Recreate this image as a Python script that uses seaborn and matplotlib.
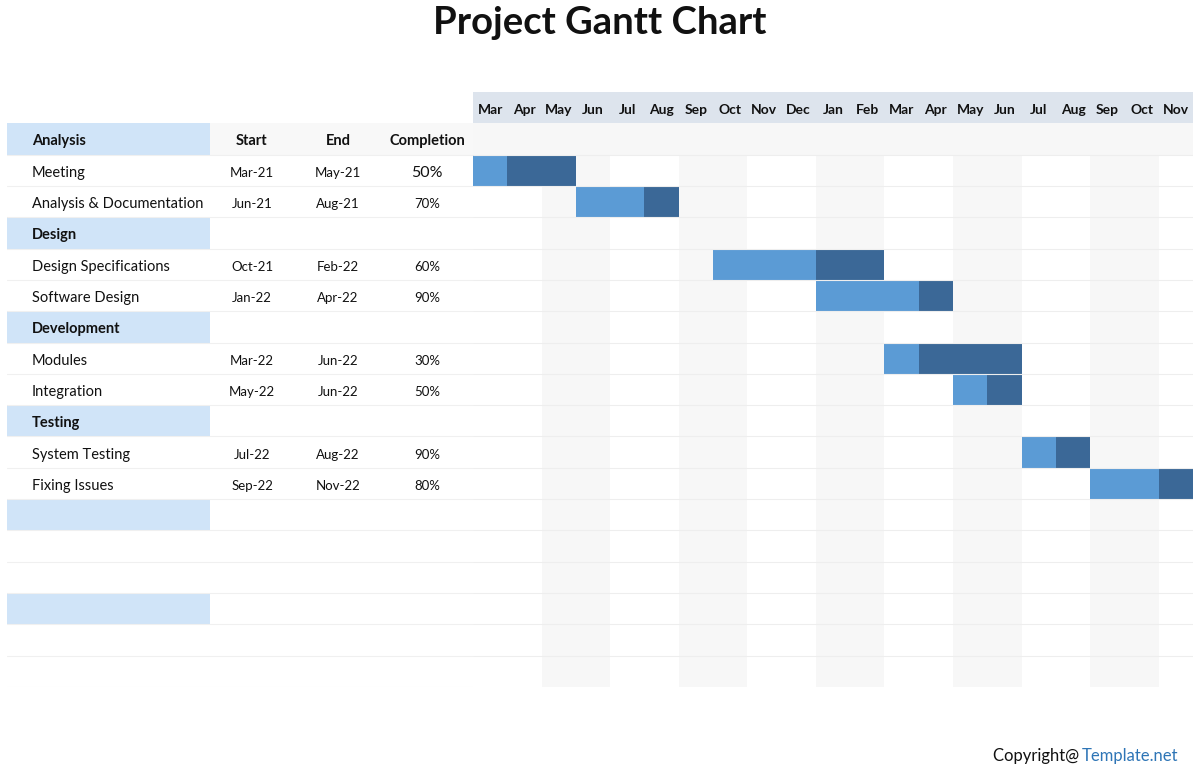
import numpy as np
import pandas as pd
import matplotlib
matplotlib.use("Agg")
import matplotlib.pyplot as plt
import seaborn as sns
from matplotlib.colors import ListedColormap
from matplotlib.patches import Rectangle

# ---------------- data ----------------
sections = ["Analysis", "Design", "Development", "Testing", "", ""]
tasks = ["Meeting", "Analysis & Documentation", "Design Specifications", "Software Design",
         "Modules", "Integration", "System Testing", "Fixing Issues"]
task_section = [0, 0, 1, 1, 2, 2, 3, 3]
starts = ["Mar-21", "Jun-21", "Oct-21", "Jan-22", "Mar-22", "May-22", "Jul-22", "Sep-22"]
ends = ["May-21", "Aug-21", "Feb-22", "Apr-22", "Jun-22", "Jun-22", "Aug-22", "Nov-22"]
completion = [50, 70, 60, 90, 30, 50, 90, 80]
months = ["Mar", "Apr", "May", "Jun", "Jul", "Aug", "Sep", "Oct", "Nov", "Dec", "Jan",
          "Feb", "Mar", "Apr", "May", "Jun", "Jul", "Aug", "Sep", "Oct", "Nov"]
col_headers = ["Start", "End", "Completion"]
timeline_start = "Mar-21"

# ---------------- style ----------------
sns.set_theme(style="white")
plt.rcParams["font.family"] = ["Lato", "DejaVu Sans"]

W, H = 1200, 767
fig = plt.figure(figsize=(W / 100, H / 100), dpi=100)

# layout (pixels)
top_px, bot_px = 92, 687
tl_left, tl_right = 473, 1193
nrows_total = 1 + 3 * len(sections)  # month header + rows
dy = 0.08  # text vertical nudge (rows)

# build row structure
rows = []
for si, s in enumerate(sections):
    rows.append(("section", si))
    tids = [i for i, ts in enumerate(task_section) if ts == si]
    for k in range(2):
        rows.append(("task", tids[k]) if k < len(tids) else ("blank", None))

t0 = pd.to_datetime(timeline_start, format="%b-%y")
def midx(s):
    d = pd.to_datetime(s, format="%b-%y")
    return (d.year - t0.year) * 12 + d.month - t0.month

nm = len(months)
mat = np.zeros((nrows_total, nm))
labels = np.full((nrows_total, nm), "", dtype=object)
mat[0, :] = 4
labels[0, :] = months
for r, (kind, idx) in enumerate(rows, start=1):
    for m in range(nm):
        mat[r, m] = 1 if (r == 1 or (m // 2) % 2 == 1) else 0
    if kind == "task":
        s, e = midx(starts[idx]), midx(ends[idx])
        dur = e - s + 1
        done = int(np.floor(completion[idx] / 100 * dur + 1e-9))
        for m in range(s, e + 1):
            mat[r, m] = 2 if m < s + done else 3

cmap = ListedColormap(["#ffffff", "#f7f7f7", "#5b9bd5", "#3b6897", "#dde4ed"])

ax = fig.add_axes([tl_left / W, 1 - bot_px / H, (tl_right - tl_left) / W, (bot_px - top_px) / H])
sns.heatmap(mat, cmap=cmap, vmin=-0.5, vmax=4.5, cbar=False, annot=labels, fmt="",
            annot_kws=dict(color="#111111", fontsize=10, fontweight="bold"),
            xticklabels=False, yticklabels=False, linewidths=0, ax=ax)
for t in ax.texts:
    t.set_y(t.get_position()[1] + dy)
for y in range(2, nrows_total):
    ax.axhline(y, color="#eeeeee", lw=0.8)
for sp in ax.spines.values():
    sp.set_visible(False)

# ---------------- table ----------------
tab = fig.add_axes([0, 1 - bot_px / H, tl_left / W, (bot_px - top_px) / H])
tab.set_xlim(0, tl_left)
tab.set_ylim(nrows_total, 0)
tab.axis("off")

col_x = [252, 338, 427]
for r, (kind, idx) in enumerate(rows, start=1):
    yc = r + 0.5 + dy
    if kind == "section":
        tab.add_patch(Rectangle((7, r), 203, 1, color="#d0e4f8", lw=0))
        tab.text(32, yc, sections[idx], ha="left", va="center", fontsize=10.5,
                 fontweight="bold", color="#111111")
        if r == 1:
            tab.add_patch(Rectangle((210, r), tl_left - 210, 1, color="#f8f8f8", lw=0))
            for x, h in zip(col_x, col_headers):
                tab.text(x, yc, h, ha="center", va="center", fontsize=10.5,
                         fontweight="bold", color="#111111")
    elif kind == "task":
        tab.text(32, yc, tasks[idx], ha="left", va="center", fontsize=10.5, color="#111111")
        tab.text(col_x[0], yc, starts[idx], ha="center", va="center", fontsize=9.5, color="#111111")
        tab.text(col_x[1], yc, ends[idx], ha="center", va="center", fontsize=9.5, color="#111111")
        tab.text(col_x[2], yc, f"{completion[idx]}%", ha="center", va="center",
                 fontsize=11.5 if idx == 0 else 9.5, color="#111111")
    if r > 1:
        tab.plot([7, tl_left], [r, r], color="#f0f0f0", lw=0.8)
tab.plot([7, tl_left], [nrows_total, nrows_total], color="#f0f0f0", lw=0.8)

# ---------------- title & footer ----------------
fig.text(0.5, 1 - 23 / H, "Project Gantt Chart", ha="center", va="center",
         fontsize=27.5, fontweight="bold", color="#111111")
fig.text(993 / W, 1 - 748 / H, "Copyright@ ", ha="left", va="top", fontsize=12, color="#111111")
fig.text(1082 / W, 1 - 748 / H, "Template.net", ha="left", va="top", fontsize=12, color="#2e75b6")

fig.savefig("out.png", dpi=100)
